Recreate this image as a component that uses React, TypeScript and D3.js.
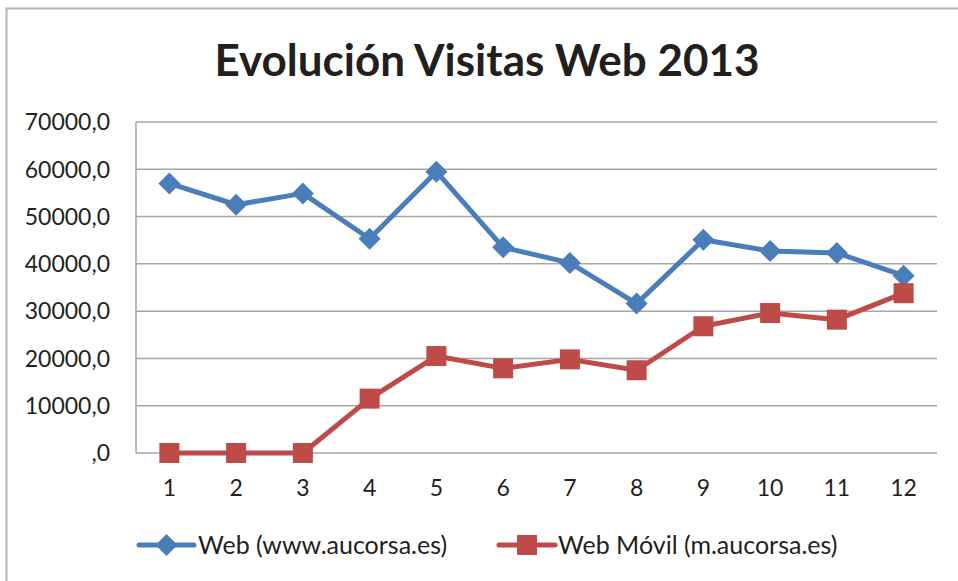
import React from "react";
import * as d3 from "d3";

const months = ["1", "2", "3", "4", "5", "6", "7", "8", "9", "10", "11", "12"];
const webValues = [57000, 52500, 54900, 45300, 59500, 43500, 40200, 31600, 45100, 42700, 42300, 37500];
const movilValues = [0, 0, 0, 11500, 20500, 17900, 19800, 17500, 26800, 29600, 28200, 33800];
const yTicks = [0, 10000, 20000, 30000, 40000, 50000, 60000, 70000];
const seriesNames = ["Web (www.aucorsa.es)", "Web Móvil (m.aucorsa.es)"];
const title = "Evolución Visitas Web 2013";

const W = 958;
const H = 581;
const left = 136;
const right = 937;
const top = 122;
const bottom = 453;
const FONT = "Lato, 'Open Sans', sans-serif";
const BLUE = "#4a7ebb";
const RED = "#be4b48";
const GRID = "#a6a6a6";

const fmt = (v: number) => (v === 0 ? ",0" : `${v},0`);

export default function App() {
  const x = d3.scaleBand<string>().domain(months).range([left, right]);
  const y = d3.scaleLinear().domain([0, 70000]).range([bottom, top]);
  const cx = (m: string) => (x(m) as number) + x.bandwidth() / 2;
  const line = d3
    .line<number>()
    .x((_, i) => cx(months[i]))
    .y((d) => y(d));

  const diamond = (px: number, py: number, r: number) =>
    `M${px},${py - r}L${px + r},${py}L${px},${py + r}L${px - r},${py}Z`;

  return (
    <svg
      width={W}
      height={H}
      style={{ position: "absolute", left: 0, top: 0, background: "#fff" }}
      fontFamily={FONT}
    >
      <rect x={6.5} y={8.5} width={W + 10} height={H + 10} fill="none" stroke="#b3b3b3" strokeWidth={2} />
      <text x={487} y={76} textAnchor="middle" fontSize={44} fontWeight={700} fill="#231f20">
        {title}
      </text>
      {yTicks.map((t) => (
        <g key={t}>
          <line x1={left} x2={right} y1={y(t)} y2={y(t)} stroke={GRID} strokeWidth={1.5} />
          <text x={110} y={y(t)} dy="0.36em" textAnchor="end" fontSize={23} fill="#231f20">
            {fmt(t)}
          </text>
        </g>
      ))}
      <line x1={left} x2={left} y1={top} y2={bottom} stroke={GRID} strokeWidth={1.5} />
      {months.map((m) => (
        <text key={m} x={cx(m)} y={488} dy="0.36em" textAnchor="middle" fontSize={23} fill="#231f20">
          {m}
        </text>
      ))}
      <path d={line(webValues) || ""} fill="none" stroke={BLUE} strokeWidth={5} strokeLinejoin="round" />
      {webValues.map((v, i) => (
        <path key={i} d={diamond(cx(months[i]), y(v), 11)} fill={BLUE} />
      ))}
      <path d={line(movilValues) || ""} fill="none" stroke={RED} strokeWidth={5} strokeLinejoin="round" />
      {movilValues.map((v, i) => (
        <rect key={i} x={cx(months[i]) - 10} y={y(v) - 10} width={20} height={20} fill={RED} />
      ))}
      <g>
        <line x1={139} x2={194} y1={545} y2={545} stroke={BLUE} strokeWidth={5} strokeLinecap="round" />
        <path d={diamond(166.5, 545, 11)} fill={BLUE} />
        <text x={198} y={545} dy="0.36em" fontSize={25} fill="#231f20">
          {seriesNames[0]}
        </text>
        <line x1={499} x2={555} y1={545} y2={545} stroke={RED} strokeWidth={5} strokeLinecap="round" />
        <rect x={517} y={535} width={20} height={20} fill={RED} />
        <text x={558} y={545} dy="0.36em" fontSize={25} fill="#231f20">
          {seriesNames[1]}
        </text>
      </g>
    </svg>
  );
}
